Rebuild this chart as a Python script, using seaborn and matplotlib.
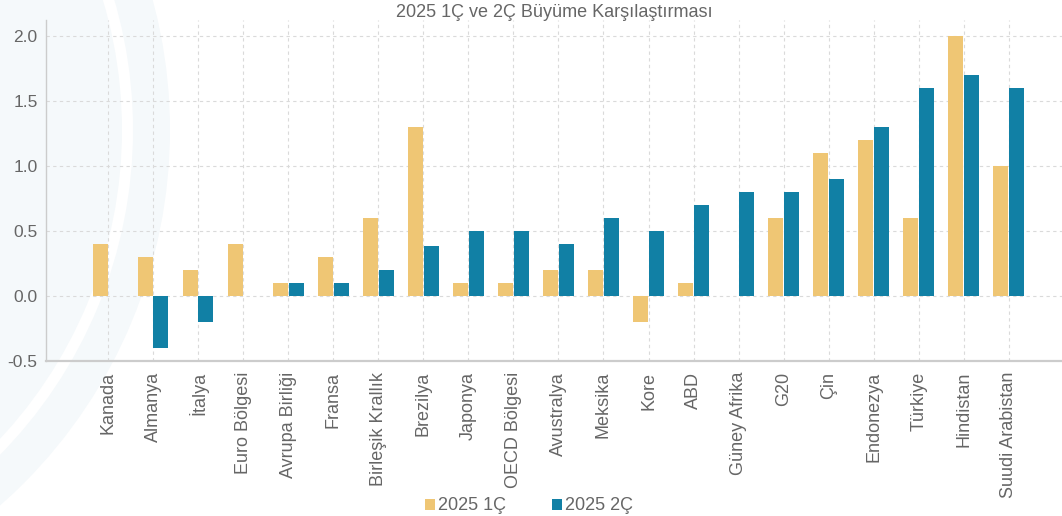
import numpy as np
import pandas as pd
import matplotlib.pyplot as plt
import seaborn as sns
from matplotlib.patches import Circle, Wedge

# Veriler
ulkeler = ["Kanada", "Almanya", "İtalya", "Euro Bölgesi", "Avrupa Birliği", "Fransa",
           "Birleşik Krallık", "Brezilya", "Japonya", "OECD Bölgesi", "Avustralya",
           "Meksika", "Kore", "ABD", "Güney Afrika", "G20", "Çin", "Endonezya",
           "Türkiye", "Hindistan", "Suudi Arabistan"]
ceyrek1 = [0.4, 0.3, 0.2, 0.4, 0.1, 0.3, 0.6, 1.3, 0.1, 0.1, 0.2,
           0.2, -0.2, 0.1, np.nan, 0.6, 1.1, 1.2, 0.6, 2.0, 1.0]
ceyrek2 = [np.nan, -0.4, -0.2, np.nan, 0.1, 0.1, 0.2, 0.38, 0.5, 0.5, 0.4,
           0.6, 0.5, 0.7, 0.8, 0.8, 0.9, 1.3, 1.6, 1.7, 1.6]
seriler = ["2025 1Ç", "2025 2Ç"]
renkler = ["#EFC674", "#1180A5"]

df = pd.DataFrame({"Ülke": ulkeler, seriler[0]: ceyrek1, seriler[1]: ceyrek2})
df_long = df.melt(id_vars="Ülke", var_name="Dönem", value_name="Büyüme")

sns.set_theme(style="white")
plt.rcParams['font.family'] = ['Liberation Sans', 'DejaVu Sans']
plt.rcParams['axes.unicode_minus'] = False

fig = plt.figure(figsize=(10.62, 5.16), dpi=100)

# arka plandaki silik daire deseni
tr = fig.dpi_scale_trans
merkez = (-330 / 100, (516 - 130) / 100)
fig.add_artist(Circle(merkez, 5.0, transform=tr, color="#f5f9fb", zorder=-10, lw=0))
fig.add_artist(Wedge(merkez, 4.63, 0, 360, width=0.11, transform=tr, color="white", zorder=-9, lw=0))

ax = fig.add_axes([46 / 1062, 155 / 516, 1016 / 1062, 341 / 516])
ax.set_facecolor("none")

sns.barplot(data=df_long, x="Ülke", y="Büyüme", hue="Dönem", order=ulkeler,
            hue_order=seriler, palette=renkler, width=0.7, gap=0.05,
            errorbar=None, saturation=1, linewidth=0, ax=ax)

ax.set_xlim(-1.376, 21.18)
ax.set_ylim(-0.5, 2.12)
ax.set_yticks([-0.5, 0.0, 0.5, 1.0, 1.5, 2.0])
ax.set_yticklabels([f"{v:.1f}" for v in [-0.5, 0.0, 0.5, 1.0, 1.5, 2.0]])
ax.set_xlabel("")
ax.set_ylabel("")

ax.grid(True, linestyle=(0, (3, 3)), color="#dadada", linewidth=0.8)
ax.set_axisbelow(True)
for s in ["top", "right"]:
    ax.spines[s].set_visible(False)
ax.spines["left"].set_color("#cccccc")
ax.spines["left"].set_linewidth(1)
ax.spines["bottom"].set_color("#cccccc")
ax.spines["bottom"].set_linewidth(1.6)

ax.tick_params(axis="y", length=0, pad=6, labelsize=12.5, labelcolor="#666666")
ax.tick_params(axis="x", length=0, pad=8, labelsize=13, labelcolor="#666666", rotation=90)

ax.set_title("2025 1Ç ve 2Ç Büyüme Karşılaştırması", fontsize=13, color="#666666", pad=2)

handles, labels = ax.get_legend_handles_labels()
ax.get_legend().remove()
fig.legend(handles, labels, loc="center", bbox_to_anchor=(529 / 1062, 10 / 516),
           ncol=2, frameon=False, fontsize=13, labelcolor="#666666",
           handlelength=0.55, handleheight=0.55, handletextpad=0.15,
           columnspacing=2.6, borderpad=0)

plt.savefig("out.png", dpi=100)
plt.close()
